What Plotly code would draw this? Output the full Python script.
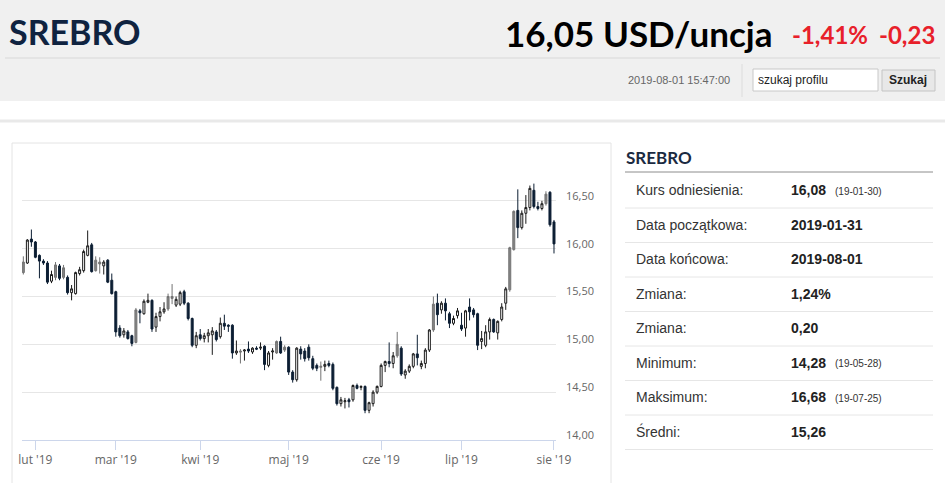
import pandas as pd
import plotly.graph_objects as go

##############################################
# Data
##############################################

DATES = pd.bdate_range("2019-01-29", "2019-08-01")

OPEN = [15.75, 15.85, 16.10, 16.07, 15.93, 15.87, 15.85, 15.66, 15.70, 15.82,
        15.70, 15.70, 15.54, 15.53, 15.74, 15.77, 15.93, 16.04, 15.77, 15.84,
        15.82, 15.88, 15.67, 15.55, 15.17, 15.10, 15.13, 15.09, 15.02, 15.35,
        15.32, 15.44, 15.46, 15.18, 15.29, 15.34, 15.37, 15.50, 15.41, 15.42,
        15.55, 15.43, 15.27, 14.99, 15.10, 15.06, 15.09, 15.10, 15.13, 15.08,
        15.22, 15.20, 15.20, 14.91, 14.93, 14.93, 14.95, 14.92, 14.96, 14.96,
        14.98, 14.78, 14.92, 14.91, 15.03, 14.94, 14.97, 14.71, 14.63, 14.95,
        14.93, 14.97, 14.85, 14.78, 14.76, 14.77, 14.80, 14.79, 14.55, 14.38,
        14.40, 14.42, 14.42, 14.57, 14.55, 14.56, 14.31, 14.38, 14.50, 14.56,
        14.78, 14.82, 14.80, 14.88, 14.96, 14.68, 14.72, 14.77, 14.90, 14.77,
        14.80, 14.94, 15.15, 15.43, 15.36, 15.43, 15.32, 15.22, 15.30, 15.20,
        15.17, 15.39, 15.36, 15.32, 15.03, 14.99, 15.13, 15.26, 15.12, 15.26,
        15.43, 15.57, 15.99, 16.40, 16.22, 16.37, 16.43, 16.61, 16.44, 16.42,
        16.47, 16.59, 16.28]
HIGH = [15.92, 16.10, 16.20, 16.08, 15.94, 15.89, 15.87, 15.77, 15.86, 15.84,
        15.83, 15.72, 15.62, 15.76, 15.81, 15.99, 16.19, 16.06, 15.92, 15.91,
        15.88, 15.89, 15.74, 15.56, 15.20, 15.17, 15.15, 15.10, 15.38, 15.37,
        15.47, 15.53, 15.47, 15.33, 15.39, 15.44, 15.53, 15.63, 15.50, 15.56,
        15.57, 15.44, 15.28, 15.13, 15.16, 15.12, 15.16, 15.18, 15.15, 15.28,
        15.31, 15.21, 15.21, 15.04, 14.95, 14.95, 15.03, 14.97, 14.98, 15.02,
        14.99, 14.93, 14.96, 15.04, 15.08, 14.99, 14.98, 14.73, 14.97, 14.98,
        14.96, 15.00, 14.88, 14.80, 14.82, 14.83, 14.83, 14.81, 14.56, 14.45,
        14.44, 14.44, 14.58, 14.59, 14.57, 14.57, 14.40, 14.52, 14.57, 14.80,
        14.83, 15.02, 14.92, 15.13, 14.98, 14.74, 14.79, 14.91, 15.10, 14.83,
        14.96, 15.16, 15.50, 15.53, 15.45, 15.48, 15.34, 15.30, 15.38, 15.33,
        15.36, 15.48, 15.38, 15.33, 15.14, 15.20, 15.28, 15.27, 15.25, 15.43,
        15.60, 16.02, 16.40, 16.62, 16.40, 16.56, 16.66, 16.68, 16.49, 16.50,
        16.60, 16.60, 16.30]
LOW = [15.73, 15.84, 16.02, 15.90, 15.69, 15.83, 15.63, 15.64, 15.67, 15.67,
       15.68, 15.52, 15.46, 15.52, 15.72, 15.75, 15.92, 15.75, 15.76, 15.74,
       15.73, 15.64, 15.52, 15.08, 15.07, 15.07, 15.05, 14.98, 15.01, 15.22,
       15.31, 15.43, 15.13, 15.13, 15.24, 15.32, 15.35, 15.42, 15.39, 15.40,
       15.41, 15.25, 14.97, 14.96, 15.04, 15.02, 15.02, 14.89, 15.03, 15.06,
       15.15, 15.13, 14.85, 14.89, 14.80, 14.83, 14.91, 14.90, 14.94, 14.94,
       14.73, 14.76, 14.84, 14.90, 14.90, 14.92, 14.68, 14.60, 14.61, 14.84,
       14.82, 14.83, 14.73, 14.72, 14.62, 14.72, 14.76, 14.52, 14.36, 14.35,
       14.33, 14.34, 14.40, 14.53, 14.52, 14.28, 14.28, 14.35, 14.48, 14.55,
       14.71, 14.76, 14.75, 14.86, 14.67, 14.64, 14.70, 14.75, 14.78, 14.74,
       14.75, 14.92, 15.13, 15.20, 15.32, 15.25, 15.17, 15.20, 15.27, 15.14,
       15.08, 15.25, 15.28, 14.94, 14.95, 14.97, 15.05, 15.12, 15.05, 15.24,
       15.36, 15.55, 15.98, 16.11, 16.20, 16.26, 16.40, 16.42, 16.40, 16.40,
       16.45, 16.23, 15.95]
CLOSE = [15.86, 16.09, 16.07, 15.91, 15.87, 15.85, 15.65, 15.73, 15.83, 15.69,
         15.80, 15.54, 15.58, 15.75, 15.78, 15.97, 16.03, 15.76, 15.88, 15.86,
         15.86, 15.65, 15.53, 15.13, 15.09, 15.14, 15.06, 15.01, 15.36, 15.33,
         15.45, 15.46, 15.16, 15.29, 15.34, 15.37, 15.50, 15.48, 15.47, 15.54,
         15.43, 15.27, 14.99, 15.09, 15.06, 15.09, 15.12, 15.14, 15.05, 15.22,
         15.19, 15.19, 14.91, 14.93, 14.92, 14.94, 14.93, 14.96, 14.95, 14.97,
         14.79, 14.91, 14.93, 15.03, 14.91, 14.97, 14.71, 14.63, 14.96, 14.90,
         14.85, 14.86, 14.75, 14.75, 14.77, 14.79, 14.78, 14.54, 14.38, 14.42,
         14.41, 14.40, 14.57, 14.54, 14.56, 14.31, 14.39, 14.50, 14.56, 14.78,
         14.82, 14.80, 14.88, 15.00, 14.69, 14.72, 14.77, 14.90, 14.86, 14.80,
         14.94, 15.15, 15.42, 15.31, 15.43, 15.35, 15.22, 15.27, 15.35, 15.16,
         15.35, 15.34, 15.31, 14.99, 15.06, 15.13, 15.26, 15.13, 15.24, 15.39,
         15.58, 16.01, 16.39, 16.22, 16.37, 16.43, 16.63, 16.44, 16.42, 16.47,
         16.57, 16.25, 16.05]
# candle look: u = hollow, d = dark, g = grey
KIND = ("gudddddugd" "gduuuuudgg" "udddduddgd" "uuduuugguu" "ddduduuudu"
        "dddugududu" "duugdgddud" "ddddgudddu" "udududuuuu" "udugduuudu"
        "uugdudduud" "uddduuuduu" "uggduuuddu" "gdd")

Y_TICKS = [14.0, 14.5, 15.0, 15.5, 16.0, 16.5, 17.0]
MONTH_TICKS = ["2019-02-01", "2019-03-01", "2019-04-01", "2019-05-01",
               "2019-06-03", "2019-07-01", "2019-08-01"]
MONTH_LABELS = ["lut '19", "mar '19", "kwi '19", "maj '19",
                "cze '19", "lip '19", "sie '19"]

TITLE = "SREBRO"
PRICE = "16,05 USD/uncja"
CHANGE_PCT = "-1,41%"
CHANGE_ABS = "-0,23"
TIMESTAMP = "2019-08-01 15:47:00"

TABLE_LABELS = ["Kurs odniesienia:", "Data początkowa:", "Data końcowa:", "Zmiana:",
                "Zmiana:", "Minimum:", "Maksimum:", "Średni:"]
TABLE_VALUES = ["16,08", "2019-01-31", "2019-08-01", "1,24%",
                "0,20", "14,28", "16,68", "15,26"]
TABLE_NOTES = ["(19-01-30)", "", "", "", "", "(19-05-28)", "(19-07-25)", ""]

##############################################
# Helpers (page pixels -> paper)
##############################################

W, H = 945, 483


def px(x):
    return x / W


def py(y):
    return 1 - y / H


shapes = []
annotations = []


def rect(x0, y0, x1, y1, fill, line=None, lw=1):
    shapes.append(dict(type="rect", xref="paper", yref="paper", layer="below",
                       x0=px(x0), x1=px(x1), y0=py(y1), y1=py(y0),
                       fillcolor=fill, line=dict(color=line or fill, width=lw if line else 0)))


def hline(x0, x1, y, color, lw=1):
    shapes.append(dict(type="line", xref="paper", yref="paper", layer="below",
                       x0=px(x0), x1=px(x1), y0=py(y), y1=py(y),
                       line=dict(color=color, width=lw)))


def text(x, y, s, size, color="#222222", anchor="left", family="Liberation Sans"):
    annotations.append(dict(xref="paper", yref="paper", x=px(x), y=py(y), text=s,
                            showarrow=False, xanchor=anchor, yanchor="middle",
                            font=dict(size=size, color=color, family=family)))


##############################################
# Candles
##############################################

fig = go.Figure()

styles = {
    "u": ("#ffffff", "#1a1a1a"),
    "d": ("#0c1e33", "#0c1e33"),
    "g": ("#858585", "#737373"),
}

for k, (fill, line) in styles.items():
    idx = [i for i, c in enumerate(KIND) if c == k]
    fig.add_trace(go.Candlestick(
        x=[DATES[i] for i in idx],
        open=[OPEN[i] for i in idx],
        high=[HIGH[i] for i in idx],
        low=[LOW[i] for i in idx],
        close=[CLOSE[i] for i in idx],
        increasing=dict(fillcolor=fill, line=dict(color=line, width=1)),
        decreasing=dict(fillcolor=fill, line=dict(color=line, width=1)),
        hoverinfo="skip",
        showlegend=False,
    ))

##############################################
# Page decoration
##############################################

# header band
rect(0, 0, 945, 101, "#f0f0f0")
hline(5, 940, 58, "#d8d8d8")
shapes.append(dict(type="line", xref="paper", yref="paper", layer="below",
                   x0=px(742), x1=px(742), y0=py(97), y1=py(64),
                   line=dict(color="#dcdcdc", width=1)))
rect(753, 69, 878, 91, "#ffffff", "#c8c8c8")
rect(882, 70, 935, 91, "#e8e8e8", "#c4c4c4")
hline(0, 945, 121, "#e9e9e9", 3)

# chart box
rect(12, 143, 611, 495, "rgba(0,0,0,0)", "#e4e4e4")

text(7, 31, "<b>" + TITLE + "</b>", 34, "#0f2340", family="Lato")
text(775, 33, "<b>" + PRICE + "</b>", 35, "#000000", anchor="right", family="Lato")
text(790, 35, "<b>" + CHANGE_PCT + "</b>", 24, "#e8202a", family="Lato")
text(937, 35, "<b>" + CHANGE_ABS + "</b>", 24, "#e8202a", anchor="right", family="Lato")
text(732, 80, TIMESTAMP, 11, "#666666", anchor="right")
text(756, 80, "szukaj profilu", 12, "#222222")
text(908, 80, "<b>Szukaj</b>", 12, "#222222", anchor="center")

# statistics panel
text(624, 157, "<b>" + TITLE + "</b>", 17, "#1b2a41", family="Lato")
hline(625, 933, 172, "#8c8c8c")
row_h = 34.5
for i, (lab, val, note) in enumerate(zip(TABLE_LABELS, TABLE_VALUES, TABLE_NOTES)):
    yc = 190 + i * row_h
    text(634, yc, lab, 14, "#333333")
    text(789, yc, "<b>" + val + "</b>", 14, "#222222")
    if note:
        text(833, yc + 1, note, 10, "#333333")
    hline(625, 933, 208 + i * row_h, "#e6e6e6")

##############################################
# Layout
##############################################

fig.update_layout(
    width=W,
    height=H,
    autosize=False,
    margin=dict(l=0, r=0, t=0, b=0, pad=0, autoexpand=False),
    paper_bgcolor="#ffffff",
    plot_bgcolor="#ffffff",
    separators=", ",
    showlegend=False,
    shapes=shapes,
    annotations=annotations,
    xaxis=dict(
        domain=[px(22), px(556)],
        type="date",
        automargin=False,
        rangebreaks=[dict(bounds=["sat", "mon"])],
        range=["2019-01-28 16:00", "2019-08-01 12:00"],
        rangeslider=dict(visible=False),
        tickvals=MONTH_TICKS,
        ticktext=MONTH_LABELS,
        ticks="outside",
        ticklen=9,
        tickcolor="#ccd6eb",
        showline=True,
        linecolor="#ccd6eb",
        showgrid=False,
        tickfont=dict(family="Open Sans", size=12, color="#666666"),
        fixedrange=True,
    ),
    yaxis=dict(
        domain=[py(440), py(153)],
        range=[14, 17],
        side="right",
        automargin=False,
        tickvals=Y_TICKS,
        ticktext=[f"{v:.2f}".replace(".", ",") if v < 17 else "" for v in Y_TICKS],
        showgrid=True,
        gridcolor="#e6e6e6",
        zeroline=False,
        ticks="",
        ticklabelstandoff=9,
        ticklabelshift=-5,
        tickfont=dict(family="Open Sans", size=11, color="#666666"),
        fixedrange=True,
    ),
)

fig.write_html(
    "out.html",
    config={"displayModeBar": False, "responsive": False},
    post_script="document.body.style.margin='0';",
)
